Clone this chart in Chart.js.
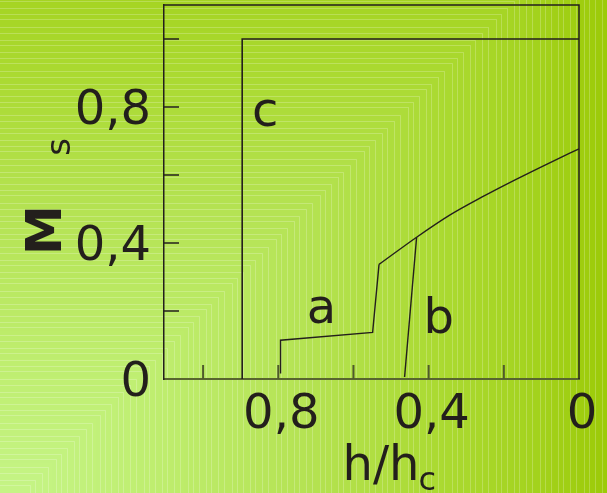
<!DOCTYPE html>
<html lang="en">
<head>
  <meta charset="UTF-8" />
  <title>Ms vs h/hc</title>
  <style>
    body {
      margin: 0;
      padding: 0;
      background: #b0de40;
    }

    .container {
      width: 607px;
      height: 493px;
      position: relative;
    }
  </style>
  <script src="https://cdn.jsdelivr.net/npm/chart.js"></script>
</head>
<body>
  <div class="container">
    <canvas id="magChart"></canvas>
  </div>

  <script>
    // curve a: plateau and jump up to the common branch
    const curveA_h = [0.794, 0.794, 0.549, 0.532];
    const curveA_m = [0.016, 0.114, 0.137, 0.337];
    // common upper branch shared by a and b
    const upper_h = [0.532, 0.432, 0.344, 0.255, 0.166, 0.078, 0];
    const upper_m = [0.337, 0.417, 0.482, 0.537, 0.588, 0.636, 0.677];
    // curve b: steep rise onto the upper branch
    const curveB_h = [0.464, 0.432];
    const curveB_m = [0.006, 0.417];
    // curve c: step to saturation
    const curveC_h = [0.896, 0.896, 0];
    const curveC_m = [0, 1.0, 1.0];

    const xTickMarks = [1.0, 0.8, 0.6, 0.4, 0.2];
    const xTickLabels = [0.8, 0.4, 0];
    const yTickMarks = [0.2, 0.4, 0.6, 0.8, 1.0];
    const yTickLabels = [0, 0.4, 0.8];

    const curveNames = ["a", "b", "c"];
    const curveNameAt = [[0.685, 0.166], [0.373, 0.136], [0.835, 0.745]];

    const ink = "#231f1c";
    const fontFamily = "'DejaVu Sans', sans-serif";

    function toPoints(hs, ms) {
      return hs.map((h, i) => ({ x: h, y: ms[i] }));
    }

    function fmt(v) {
      return String(Math.round(v * 10) / 10).replace(".", ",");
    }

    function hasValue(list, v) {
      return list.some(t => Math.abs(t - v) < 1e-6);
    }

    // square-stepped green backdrop, light in the lower left corner
    const bgStops = [
      [0, [198, 245, 138]],
      [150, [191, 238, 112]],
      [300, [181, 227, 84]],
      [450, [170, 217, 47]],
      [520, [165, 212, 34]],
      [620, [155, 201, 4]]
    ];

    function bgColor(d) {
      for (let i = 1; i < bgStops.length; i++) {
        if (d <= bgStops[i][0]) {
          const [d0, c0] = bgStops[i - 1];
          const [d1, c1] = bgStops[i];
          const t = (d - d0) / (d1 - d0);
          const c = c0.map((v, k) => Math.round(v + (c1[k] - v) * t));
          return `rgb(${c[0]},${c[1]},${c[2]})`;
        }
      }
      const c = bgStops[bgStops.length - 1][1];
      return `rgb(${c[0]},${c[1]},${c[2]})`;
    }

    const backdrop = {
      id: "backdrop",
      beforeDraw(chart) {
        const ctx = chart.ctx;
        const h = chart.height;
        const cy = h + 22;
        ctx.save();
        for (let d = 720; d >= 0; d -= 2) {
          ctx.fillStyle = bgColor(d);
          ctx.fillRect(0, cy - d, d, d);
        }
        ctx.strokeStyle = "rgba(255,255,255,0.22)";
        ctx.lineWidth = 1;
        const gaps = [5, 7, 6, 8, 5, 6, 7];
        let d = 30, k = 0;
        while (d < 720) {
          ctx.beginPath();
          ctx.moveTo(0, Math.round(cy - d) + 0.5);
          ctx.lineTo(Math.round(d) + 0.5, Math.round(cy - d) + 0.5);
          ctx.lineTo(Math.round(d) + 0.5, h);
          ctx.stroke();
          d += gaps[k++ % gaps.length];
        }
        ctx.restore();
      }
    };

    // frame, inward tick marks, curve names and axis titles
    const decorations = {
      id: "decorations",
      afterDraw(chart) {
        const ctx = chart.ctx;
        const area = chart.chartArea;
        const xs = chart.scales.x, ys = chart.scales.y;
        ctx.save();

        ctx.strokeStyle = ink;
        ctx.lineWidth = 1.5;
        ctx.beginPath();
        ctx.moveTo(area.left, area.top);
        ctx.lineTo(area.right, area.top);
        ctx.lineTo(area.right, area.bottom);
        ctx.stroke();

        yTickMarks.forEach(v => {
          const py = ys.getPixelForValue(v);
          ctx.beginPath();
          ctx.moveTo(area.left, py);
          ctx.lineTo(area.left + 15, py);
          ctx.stroke();
        });

        ctx.strokeStyle = "#4f5a2c";
        ctx.lineWidth = 2;
        xTickMarks.forEach(v => {
          const px = xs.getPixelForValue(v);
          ctx.beginPath();
          ctx.moveTo(px, area.bottom);
          ctx.lineTo(px, area.bottom - 14);
          ctx.stroke();
        });

        ctx.fillStyle = ink;
        ctx.font = `48px ${fontFamily}`;
        ctx.textAlign = "center";
        ctx.textBaseline = "alphabetic";
        curveNames.forEach((name, i) => {
          const [h, m] = curveNameAt[i];
          ctx.fillText(name, xs.getPixelForValue(h), ys.getPixelForValue(m));
        });

        // x title: h/h with subscript c
        ctx.textAlign = "left";
        ctx.font = `48px ${fontFamily}`;
        const xMain = "h/h";
        const xLeft = (area.left + area.right) / 2 - 29;
        const xBase = area.bottom + 101;
        ctx.fillText(xMain, xLeft, xBase);
        const mainW = ctx.measureText(xMain).width;
        ctx.font = `32px ${fontFamily}`;
        ctx.fillText("c", xLeft + mainW - 1, xBase + 10);

        // y title: M with subscript s, reading upwards
        ctx.translate(61, 230);
        ctx.rotate(-Math.PI / 2);
        ctx.textAlign = "center";
        ctx.font = `bold 50px ${fontFamily}`;
        ctx.fillText("M", 0, 0);
        ctx.font = `34px ${fontFamily}`;
        ctx.fillText("s", 83, 9);

        ctx.restore();
      }
    };

    const ctx = document.getElementById("magChart").getContext("2d");

    const lineStyle = {
      borderColor: ink,
      borderWidth: 1.4,
      pointRadius: 0,
      showLine: true,
      fill: false,
      tension: 0,
      clip: false
    };

    new Chart(ctx, {
      type: "scatter",
      data: {
        datasets: [
          Object.assign({ label: "a", data: toPoints(curveA_h, curveA_m) }, lineStyle),
          Object.assign({ label: "a/b", data: toPoints(upper_h, upper_m) }, lineStyle, { cubicInterpolationMode: "monotone" }),
          Object.assign({ label: "b", data: toPoints(curveB_h, curveB_m) }, lineStyle),
          Object.assign({ label: "c", data: toPoints(curveC_h, curveC_m) }, lineStyle, { borderWidth: 1.6 })
        ]
      },
      options: {
        responsive: true,
        maintainAspectRatio: false,
        animation: false,
        layout: {
          padding: { left: 0, right: 28, top: 5, bottom: 0 }
        },
        plugins: {
          legend: { display: false },
          tooltip: { enabled: false }
        },
        scales: {
          x: {
            type: "linear",
            reverse: true,
            min: 0,
            max: 1.104,
            afterFit: scale => {
              scale.height = 114;
              scale.paddingLeft = 0;
              scale.paddingRight = 0;
            },
            grid: { display: true, drawOnChartArea: false, drawTicks: false },
            border: { display: true, color: "#58652f", width: 2 },
            ticks: {
              stepSize: 0.2,
              padding: 8,
              labelOffset: 3,
              color: ink,
              font: { family: fontFamily, size: 48 },
              maxRotation: 0,
              autoSkip: false,
              callback: v => hasValue(xTickLabels, v) ? fmt(v) : ""
            }
          },
          y: {
            type: "linear",
            min: 0,
            max: 1.1,
            afterFit: scale => {
              scale.width = 164;
              scale.paddingTop = 0;
              scale.paddingBottom = 0;
            },
            grid: { display: true, drawOnChartArea: false, drawTicks: false },
            border: { display: true, color: ink, width: 1.5 },
            ticks: {
              stepSize: 0.2,
              padding: 13,
              labelOffset: 5,
              color: ink,
              font: { family: fontFamily, size: 48 },
              autoSkip: false,
              callback: v => hasValue(yTickLabels, v) ? fmt(v) : ""
            }
          }
        }
      },
      plugins: [backdrop, decorations]
    });
  </script>
</body>
</html>
